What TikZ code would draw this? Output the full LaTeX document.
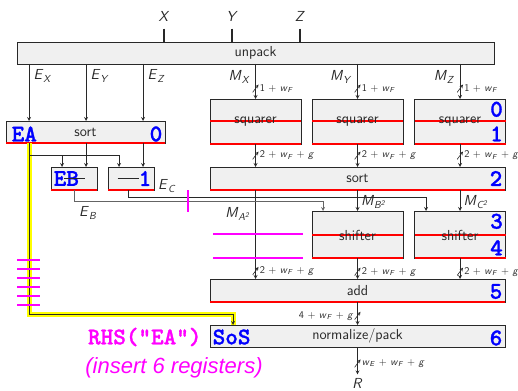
\documentclass[tikz,border=0pt]{standalone}
\usepackage{fontspec}
\usepackage{tikz}
\usetikzlibrary{positioning}
\usetikzlibrary{calc}
\newfontfamily\helvfont{Liberation Sans}
\newfontfamily\stagefam{lmmonolt10-bold.otf}[FakeBold=1.2]
\newcommand{\sv}[2]{\textit{#1}\textsubscript{\textit{#2}}}
\newcommand{\boxfont}{\sffamily\fontsize{14.5}{17}\selectfont}
\newcommand{\busfont}{\sffamily\fontsize{10.3}{12}\selectfont}
\newcommand{\stagefont}{\stagefam\fontsize{24}{26}\selectfont}
\definecolor{cb}{RGB}{40,40,40}
\definecolor{cf}{RGB}{240,240,240}
\definecolor{cgray}{RGB}{100,100,100}
\definecolor{cred}{RGB}{255,0,0}
\definecolor{cblue}{RGB}{0,0,255}
\definecolor{cmag}{RGB}{255,0,255}
\definecolor{cyel}{RGB}{255,255,0}
\tikzstyle{box}=[draw=cb, fill=cf, line width=0.9pt, inner sep=0pt, outer sep=0pt]
\tikzstyle{txt}=[cb, font=\boxfont]
\tikzstyle{stage}=[cblue, font=\stagefont, inner sep=2.5pt]
\tikzstyle{reg}=[cred, line width=2pt]
\tikzstyle{pipe}=[cmag, line width=1.8pt]
\tikzstyle{hl}=[cyel, line width=5pt]
\tikzstyle{arrow}=[cb, ->, >=stealth, line width=0.8pt]
\tikzstyle{garrow}=[cgray, ->, >=stealth, line width=0.8pt]
\tikzstyle{wlab}=[cb, font=\busfont, inner sep=0.5pt]
\tikzset{
  bus/.style={inner sep=0pt, minimum width=6pt, minimum height=8pt,
    path picture={\draw[cb, line width=0.6pt] (path picture bounding box.south west) -- (path picture bounding box.north east);}},
  busr/.style={bus, label={[wlab]east:#1}},
  busw/.style={bus, label={[wlab]west:#1}}
}

\begin{document}
\begin{tikzpicture}[x=1pt, y=-1pt]
  \useasboundingbox (0,0) rectangle (518,390);

  % boxes
  \node [box, minimum width=477pt, minimum height=22pt] (unpack) at (255.5,53) {};
  \node [box, minimum width=159pt, minimum height=22pt] (sortA) at (85.5,132) {};
  \node [box, minimum width=46pt, minimum height=23pt] (subB) at (74,178.5) {};
  \node [box, minimum width=46pt, minimum height=23pt] (subC) at (131,178.5) {};
  \foreach \n/\x in {1/255.5, 2/357.5, 3/460}
    \node [box, minimum width=91pt, minimum height=45pt] (sq\n) at (\x,121.5) {};
  \node [box, minimum width=295pt, minimum height=23pt] (sortM) at (357.5,178.5) {};
  \foreach \n/\x in {1/357.5, 2/460}
    \node [box, minimum width=91pt, minimum height=47pt] (sh\n) at (\x,234.5) {};
  \node [box, minimum width=295pt, minimum height=23pt] (add) at (357.5,290.5) {};
  \node [box, minimum width=295pt, minimum height=22pt] (norm) at (357.5,336) {};

  % registers
  \foreach \n in {sortA, subB, subC, sq1, sq2, sq3, sortM, sh1, sh2, add}
    \draw [reg] (\n.south west) -- (\n.south east);
  \foreach \n in {sq1, sq2, sq3, sh1, sh2}
    \draw [reg] (\n.west) -- (\n.east);

  % box texts
  \node [txt] (tunpack) at (unpack) {unpack};
  \node [txt] (tsortA) at (sortA) {sort};
  \foreach \n in {sq1, sq2, sq3}
    \node [txt] (t\n) at (\n) {squarer};
  \node [txt] (tsortM) at (sortM) {sort};
  \foreach \n in {sh1, sh2}
    \node [txt] (t\n) at ([yshift=-1pt]\n) {shifter};
  \node [txt] (tadd) at (add) {add};
  \node [txt] (tnorm) at (norm) {normalize/pack};

  % stages
  \node [stage, anchor=west, yshift=-2pt, xshift=3pt] (sEA) at (sortA.west) {EA};
  \node [stage, anchor=east, yshift=-2pt] (s0a) at (sortA.east) {0};
  \node [stage, anchor=west] (sEB) at (subB.west) {EB};
  \node [stage, anchor=east] (s1a) at (subC.east) {1};
  \node [stage, anchor=north east] (s0) at (sq3.north east) {0};
  \node [stage, anchor=south east] (s1) at (sq3.south east) {1};
  \node [stage, anchor=east] (s2) at (sortM.east) {2};
  \node [stage, anchor=north east] (s3) at (sh2.north east) {3};
  \node [stage, anchor=south east] (s4) at (sh2.south east) {4};
  \node [stage, anchor=east, yshift=-1pt] (s5) at (add.east) {5};
  \node [stage, anchor=east, yshift=-2pt] (s6) at (norm.east) {6};
  \node [stage, anchor=west, yshift=-1pt] (sSoS) at (norm.west) {SoS};
  \node [txt] (tsubB) at (subB) {\rule{21pt}{1pt}};
  \node [txt] (tsubC) at ([xshift=-3pt]subC) {\rule{21pt}{1pt}};

  % inputs
  \foreach \v/\x in {X/164, Y/232, Z/300} {
    \node [txt] (\v) at (\x,16) {\textit{\v}};
    \draw [cb, line width=1.6pt, shorten <=4pt] (\v) -- (\v |- unpack.north);
  }

  % exponents
  \coordinate (ex) at (29,0);
  \coordinate (ey) at (86,0);
  \coordinate (ez) at (143,0);
  \foreach \c/\v in {ex/X, ey/Y, ez/Z} {
    \draw [arrow] (unpack.south -| \c) -- (sortA.north -| \c);
    \node [txt, anchor=west] (lE\v) at ($(unpack.south -| \c)+(1,12)$) {\sv{E}{\v}};
  }

  % mantissas
  \foreach \n/\v in {1/X, 2/Y, 3/Z} {
    \draw [arrow] (unpack.south -| sq\n) -- node [busr={1 + \sv{w}{F}}, pos=0.7] (wa\n) {} (sq\n.north);
    \node [txt, anchor=east] (lM\v) at ($(unpack.south -| sq\n)+(-2,13)$) {\sv{M}{\v}};
    \draw [arrow] (sq\n.south) -- node [busr={2 + \sv{w}{F} + \textit{g}}] (wb\n) {} (sq\n.south |- sortM.north);
  }
  \draw [arrow] (sortM.south -| sq1) -- node [busr={2 + \sv{w}{F} + \textit{g}}, pos=0.91] (wc1) {} (add.north -| sq1);
  \node [txt, anchor=east] (lMA) at ($(sortM.south -| sq1)+(-2,24)$) {\sv{M}{A\textsuperscript{2}}};
  \foreach \n/\v in {1/B, 2/C} {
    \draw [arrow] (sortM.south -| sh\n) -- (sh\n.north);
    \node [txt, anchor=west] (lM\v) at ($(sortM.south -| sh\n)+(0,12)$) {\sv{M}{\v\textsuperscript{2}}};
    \draw [arrow] (sh\n.south) -- node [busr={2 + \sv{w}{F} + \textit{g}}, pos=0.65] (wc\n) {} (sh\n.south |- add.north);
  }
  \draw [arrow] (add.south) -- node [busw={4 + \sv{w}{F} + \textit{g}}, pos=0.6] (wd) {} (norm.north);
  \node [txt] (R) at (357.5,383) {\textit{R}};
  \draw [arrow] (norm.south) -- node [busr={\sv{w}{E} + \sv{w}{F} + \textit{g}}, pos=0.6] (we) {} (R);

  % exponent path
  \coordinate (jA) at (29,155);
  \coordinate (jB) at (62,155);
  \coordinate (jC) at (119,155);
  \coordinate (turn) at (29,314);
  \coordinate (sosin) at (233,314);
  \draw [hl] (sortA.south -| ex) -- (turn) -- (sosin) -- (norm.north -| sosin);
  \draw [arrow] (sortA.south -| ex) -- (turn) -- (sosin) -- (norm.north -| sosin);
  \draw [cb, line width=0.8pt] (jA) -- (jC);
  \draw [arrow] (jB) -- (subB.north -| jB);
  \draw [arrow] (jC) -- (subC.north -| jC);
  \draw [arrow] (sortA.south -| ey) -- (subB.north -| ey);
  \draw [arrow] (sortA.south -| ez) -- (subC.north -| ez);

  \coordinate (ecout) at (128,0);
  \coordinate (ecin) at (426,197);
  \coordinate (ebin) at (323,201);
  \draw [garrow] (subB.south) |- (ebin) -- (sh1.north -| ebin);
  \draw [arrow] (subC.south -| ecout) |- (ecin) -- (sh2.north -| ecin);
  \node [txt] (lEC) at (167,186) {\sv{E}{C}};
  \node [txt] (lEB) at (88,213) {\sv{E}{B}};

  % pipeline registers
  \draw [pipe] (188,190) -- (188,212);
  \foreach \y in {234, 258}
    \draw [pipe] (213,\y) -- (303,\y);
  \foreach \y in {260, 269, ..., 305}
    \draw [pipe] (17,\y) -- (40,\y);
  \node [cmag, font=\stagefont, anchor=east] (rhs) at (205,337) {RHS("EA")};
  \node [cmag, font=\helvfont\itshape\fontsize{22}{24}\selectfont] (ins) at (174,368) {(insert 6 registers)};
\end{tikzpicture}
\end{document}
